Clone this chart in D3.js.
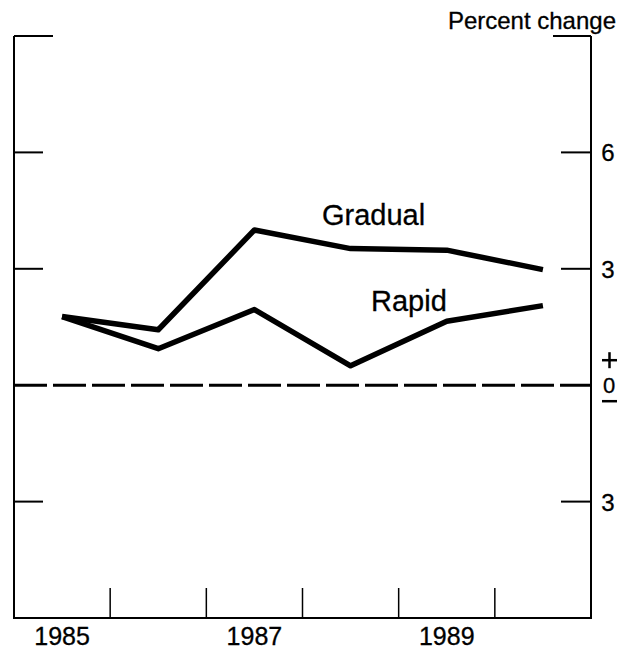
<!DOCTYPE html>
<html>
<head>
<meta charset="utf-8">
<script src="https://cdn.jsdelivr.net/npm/d3@7"></script>
<style>
  body { margin: 0; background: #fff; }
  text { font-family: "Liberation Sans", Arial, sans-serif; fill: #000; stroke: #000; stroke-width: 0.3; }
</style>
</head>
<body>
<svg width="628" height="652"></svg>
<script>
var years = [1985, 1986, 1987, 1988, 1989, 1990];
var gradual = [1.77, 1.43, 4.0, 3.52, 3.48, 2.98];
var rapid = [1.77, 0.94, 1.95, 0.5, 1.65, 2.05];
var yearLabels = [1985, 1987, 1989];
var yTicks = [6, 3, -3];

var svg = d3.select("svg"),
  plotL = 14, plotR = 591, plotT = 36, plotB = 618;

var x = d3.scaleLinear().domain([1985, 1991]).range([plotL, plotR]);
var y = d3.scaleLinear().domain([-6, 9]).range([plotB, plotT]);

// frame: left, right, bottom
svg.append("path")
  .attr("d", "M" + plotL + "," + plotT + "V" + plotB + "H" + plotR + "V" + plotT)
  .attr("fill", "none")
  .attr("stroke", "#000")
  .attr("stroke-width", 2);

// top short ticks
svg.append("line").attr("x1", plotL).attr("x2", plotL + 39)
  .attr("y1", y(9)).attr("y2", y(9)).attr("stroke", "#000").attr("stroke-width", 2);
svg.append("line").attr("x1", plotR - 38).attr("x2", plotR)
  .attr("y1", y(9)).attr("y2", y(9)).attr("stroke", "#000").attr("stroke-width", 2);

// y ticks both sides
var yt = svg.append("g").selectAll("g").data(yTicks).enter().append("g");
yt.append("line").attr("x1", plotL).attr("x2", plotL + 29)
  .attr("y1", function (d) { return y(d); }).attr("y2", function (d) { return y(d); })
  .attr("stroke", "#000").attr("stroke-width", 2);
yt.append("line").attr("x1", plotR - 30).attr("x2", plotR)
  .attr("y1", function (d) { return y(d); }).attr("y2", function (d) { return y(d); })
  .attr("stroke", "#000").attr("stroke-width", 2);
yt.append("text")
  .attr("x", 608).attr("y", function (d) { return y(d) + 9; })
  .attr("text-anchor", "middle").attr("font-size", 24)
  .text(function (d) { return Math.abs(d); });

// zero line and +/0/- marks
svg.append("line").attr("x1", plotL).attr("x2", plotR)
  .attr("y1", y(0)).attr("y2", y(0))
  .attr("stroke", "#000").attr("stroke-width", 3)
  .attr("stroke-dasharray", "33,6");
svg.append("line").attr("x1", 602).attr("x2", 617)
  .attr("y1", y(0) - 25).attr("y2", y(0) - 25)
  .attr("stroke", "#000").attr("stroke-width", 2.5);
svg.append("line").attr("x1", 609.5).attr("x2", 609.5)
  .attr("y1", y(0) - 33).attr("y2", y(0) - 17)
  .attr("stroke", "#000").attr("stroke-width", 2.5);
svg.append("text").attr("x", 609).attr("y", y(0) + 8)
  .attr("text-anchor", "middle").attr("font-size", 22).text("0");
svg.append("line").attr("x1", 602).attr("x2", 617)
  .attr("y1", y(0) + 16).attr("y2", y(0) + 16)
  .attr("stroke", "#000").attr("stroke-width", 2.5);

// x ticks at year boundaries
svg.append("g").selectAll("line").data(years.slice(1)).enter().append("line")
  .attr("x1", function (d) { return x(d); }).attr("x2", function (d) { return x(d); })
  .attr("y1", plotB - 30).attr("y2", plotB)
  .attr("stroke", "#000").attr("stroke-width", 1.5);

svg.append("g").selectAll("text").data(yearLabels).enter().append("text")
  .attr("x", function (d) { return x(d + 0.5); })
  .attr("y", 645)
  .attr("text-anchor", "middle").attr("font-size", 25)
  .text(function (d) { return d; });

svg.append("text").attr("x", 616).attr("y", 29)
  .attr("text-anchor", "end").attr("font-size", 24).text("Percent change");

// series
var line = d3.line()
  .x(function (d, i) { return x(years[i] + 0.5); })
  .y(function (d) { return y(d); });

[gradual, rapid].forEach(function (s) {
  svg.append("path").datum(s)
    .attr("d", line)
    .attr("fill", "none")
    .attr("stroke", "#000")
    .attr("stroke-width", 5.5)
    .attr("stroke-linejoin", "round");
});

svg.append("text").attr("x", 322).attr("y", 225).attr("font-size", 29).text("Gradual");
svg.append("text").attr("x", 371).attr("y", 311).attr("font-size", 29).text("Rapid");
</script>
</body>
</html>
